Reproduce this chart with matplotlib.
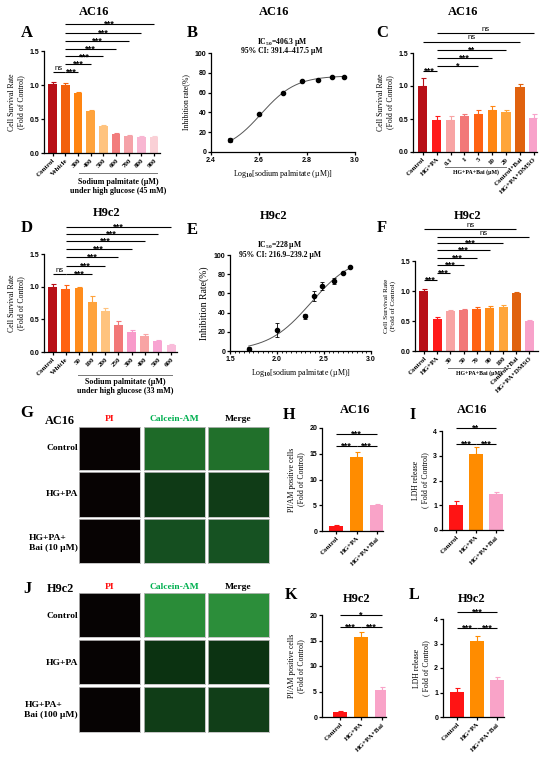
import numpy as np
import matplotlib
matplotlib.use('Agg')
from matplotlib import pyplot as plt
from matplotlib.transforms import blended_transform_factory
from matplotlib.ticker import MultipleLocator

plt.rcParams['font.family'] = ['Liberation Sans', 'DejaVu Sans']
plt.rcParams['font.weight'] = 'bold'
plt.rcParams['mathtext.fontset'] = 'custom'
plt.rcParams['mathtext.rm'] = 'Liberation Serif:bold'
plt.rcParams['mathtext.bf'] = 'Liberation Serif:bold'
plt.rcParams['mathtext.it'] = 'Liberation Serif:bold'
plt.rcParams['mathtext.default'] = 'rm'
SERIF = ['Liberation Serif', 'DejaVu Serif']

# ---------------- data ----------------
a_labels = ['Control', 'Vehicle', '300', '400', '500', '600', '700', '800', '900']
a_vals = [1.01, 1.00, 0.88, 0.62, 0.40, 0.28, 0.25, 0.24, 0.24]
a_errs = [0.04, 0.03, 0.02, 0.01, 0.015, 0.012, 0.015, 0.01, 0.01]
a_colors = ['#B80F17', '#F2600C', '#FF8410', '#FFA33C', '#FFC37E', '#F27C7C',
            '#F5A2A8', '#F8B6D2', '#FAD0D6']
a_sig = [(0, 1, 1.19, 'ns'), (1, 2, 1.19, '***'), (1, 3, 1.31, '***'), (1, 4, 1.42, '***'),
         (1, 5, 1.53, '***'), (1, 6, 1.65, '***'), (1, 7, 1.77, '***'), (1, 8, 1.90, '***')]

b_conc = [300, 400, 500, 600, 700, 800, 900]
b_rate = [12, 38, 59.5, 72, 73, 75.5, 76]
b_errs = [2, 1, 1, 1, 1, 1, 1]
b_fit = {'bottom': 0, 'top': 77, 'ic50': 406.3, 'hill': 6.0}

c_labels = ['Control', 'HG+PA', '0.1', '1', '5', '10', '20', 'Control+Bai', 'HG+PA+DMSO']
c_vals = [1.00, 0.48, 0.49, 0.55, 0.58, 0.64, 0.61, 0.99, 0.51]
c_errs = [0.12, 0.06, 0.06, 0.03, 0.05, 0.05, 0.03, 0.04, 0.07]
c_colors = ['#B80F17', '#FF1A1A', '#F8A4A4', '#F27878', '#FF6212', '#FF8614',
            '#FFA53A', '#E0620E', '#F8A2CA']
c_sig = [(0, 1, 1.23, '***'), (1, 4, 1.30, '*'), (1, 5, 1.42, '***'), (1, 6, 1.55, '**'),
         (0, 7, 1.67, 'ns'), (1, 8, 1.80, 'ns')]

d_labels = ['Control', 'Vehicle', '50', '100', '200', '250', '300', '400', '500', '600']
d_vals = [1.00, 0.97, 0.98, 0.77, 0.63, 0.42, 0.30, 0.25, 0.17, 0.11]
d_errs = [0.04, 0.05, 0.02, 0.08, 0.05, 0.05, 0.04, 0.03, 0.02, 0.01]
d_colors = ['#B80F17', '#FF6212', '#FF8C1C', '#FFA33C', '#FFC37E', '#F27878',
            '#F89ACA', '#F8A4A4', '#F8A4D2', '#F9BCDA']
d_sig = [(0, 1, 1.19, 'ns'), (1, 3, 1.19, '***'), (1, 4, 1.32, '***'), (1, 5, 1.45, '***'),
         (1, 6, 1.58, '***'), (1, 7, 1.70, '***'), (1, 8, 1.81, '***'), (1, 9, 1.92, '***')]

e_conc = [50, 100, 200, 250, 300, 400, 500, 600]
e_rate = [2, 22, 36, 57, 68, 73, 81, 87]
e_errs = [2, 7, 3, 5, 4, 3, 1, 1]
e_fit = {'bottom': 0, 'top': 100, 'ic50': 228, 'hill': 1.92}

f_labels = ['Control', 'HG+PA', '30', '50', '70', '90', '100', 'Control+Bai', 'HG+PA+DMSO']
f_vals = [1.00, 0.54, 0.67, 0.68, 0.70, 0.72, 0.73, 0.96, 0.50]
f_errs = [0.03, 0.02, 0.02, 0.02, 0.03, 0.03, 0.04, 0.03, 0.02]
f_colors = ['#B80F17', '#FF1A1A', '#F8A4A4', '#F27878', '#FF6212', '#FF8C1C',
            '#FFA53A', '#E0620E', '#F8A2CA']
f_sig = [(0, 1, 1.18, '***'), (1, 2, 1.30, '***'), (1, 3, 1.43, '***'), (1, 4, 1.55, '***'),
         (1, 5, 1.68, '***'), (1, 6, 1.80, '***'), (1, 8, 1.90, 'ns'), (0, 7, 2.03, 'ns')]

grp_labels = ['Control', 'HG+PA', 'HG+PA+Bai']
grp_colors = ['#FF1414', '#FF8C00', '#F9A3C8']
h_vals, h_errs = [1.0, 14.4, 5.0], [0.2, 1.0, 0.3]
h_sig = [(0, 1, 16.5, '***'), (1, 2, 16.5, '***'), (0, 2, 18.8, '***')]
i_vals, i_errs = [1.0, 3.07, 1.45], [0.18, 0.28, 0.08]
i_sig = [(0, 1, 3.48, '***'), (1, 2, 3.48, '***'), (0, 2, 4.12, '**')]
k_vals, k_errs = [1.0, 15.6, 5.3], [0.2, 1.0, 0.6]
k_sig = [(0, 1, 17.6, '***'), (1, 2, 17.6, '***'), (0, 2, 20.0, '*')]
l_vals, l_errs = [1.03, 3.12, 1.5], [0.15, 0.2, 0.15]
l_sig = [(0, 1, 3.63, '***'), (1, 2, 3.63, '***'), (0, 2, 4.29, '***')]

img_cols = ['PI', 'Calcein-AM', 'Merge']
img_col_colors = ['#FF1010', '#00B050', 'black']
g_rows = ['Control', 'HG+PA', 'HG+PA+\nBai (10 µM)']
j_rows = ['Control', 'HG+PA', 'HG+PA+\nBai (100 µM)']
# mean tone of each micrograph (row x column)
g_tones = [['#070303', '#1E6A28', '#21702B'],
           ['#070303', '#0F3A16', '#103C17'],
           ['#070303', '#154F20', '#165222']]
j_tones = [['#060303', '#2A8C38', '#2C8E3A'],
           ['#060303', '#0B3211', '#0C3312'],
           ['#060303', '#103D17', '#113E18']]

# ---------------- helpers ----------------
W, H = 550, 766
fig = plt.figure(figsize=(W / 100, H / 100), dpi=100)


def add_ax(l, t, r, b):
    return fig.add_axes([l / W, 1 - b / H, (r - l) / W, (b - t) / H])


def ftext(x, y, s, size, **kw):
    fig.text(x / W, 1 - y / H, s, fontsize=size, family=SERIF, ha=kw.pop('ha', 'center'),
             va=kw.pop('va', 'center'), **kw)


def style(ax):
    for s in ['top', 'right']:
        ax.spines[s].set_visible(False)
    for s in ['left', 'bottom']:
        ax.spines[s].set_linewidth(0.9)
    ax.tick_params(width=0.9, length=2.5, labelsize=5, pad=1)


def bar_panel(ax, labels, vals, errs, colors, ymax, ystep, xlim, fs=6):
    x = np.arange(len(vals))
    ax.bar(x, vals, width=0.68, color=colors, zorder=2)
    for xi, v, e, c in zip(x, vals, errs, colors):
        ax.errorbar(xi, v, yerr=[[0], [e]], ecolor=c, elinewidth=0.8, capsize=1.8,
                    capthick=0.8, zorder=3)
    ax.set_xlim(*xlim)
    ax.set_ylim(0, ymax)
    ax.set_yticks(np.arange(0, ymax + 1e-9, ystep))
    ax.set_xticks(x)
    ax.set_xticklabels(labels, rotation=45, ha='right', rotation_mode='anchor',
                       family=SERIF, fontsize=fs)
    style(ax)


def sig(ax, i, j, y, txt):
    ax.plot([i, j], [y, y], color='k', lw=0.8, clip_on=False, solid_capstyle='butt')
    if txt == 'ns':
        ax.annotate('ns', ((i + j) / 2, y), xytext=(0, 0.3), textcoords='offset points',
                    ha='center', va='bottom', fontsize=5.5, fontweight='normal',
                    annotation_clip=False)
    else:
        ax.annotate(txt, ((i + j) / 2, y), xytext=(0, -1.9), textcoords='offset points',
                    ha='center', va='baseline', fontsize=6.6, annotation_clip=False)


def bracket(ax, i0, i1, yline, text, ytext, fs):
    tr = blended_transform_factory(ax.transData, ax.transAxes)
    ax.plot([i0, i1], [yline, yline], transform=tr, color='#777777', lw=0.7, clip_on=False)
    ax.text((i0 + i1) / 2, ytext, text, transform=tr, ha='center', va='top',
            family=SERIF, fontsize=fs, linespacing=1.15)


def hill(xx, p):
    return p['bottom'] + (p['top'] - p['bottom']) / (1 + 10 ** ((np.log10(p['ic50']) - xx) * p['hill']))


def curve_panel(ax, conc, rate, errs, p, xlim, xstep):
    lx = np.log10(conc)
    xx = np.linspace(lx[0], lx[-1], 200)
    ax.plot(xx, hill(xx, p), color='#555555', lw=0.7)
    ax.errorbar(lx, rate, yerr=errs, fmt='o', color='k', ms=3, capsize=1.5,
                elinewidth=0.6, capthick=0.6)
    ax.set_xlim(*xlim)
    ax.set_ylim(0, 100)
    ax.set_xticks(np.arange(xlim[0], xlim[1] + 1e-9, xstep))
    ax.set_yticks(np.arange(0, 101, 20))
    style(ax)
    ax.set_xlabel('Log$_{10}$[sodium palmitate (µM)]', family=SERIF, fontsize=5.8, labelpad=3)


def micro(rows, tones, tops, label_y, head_y, cell):
    lefts = [(79, 140), (144, 205), (208, 269)]
    for r, (t, b) in enumerate(tops):
        for c, (l, rr) in enumerate(lefts):
            ax = add_ax(l, t, rr, b)
            ax.set_facecolor(tones[r][c])
            ax.set_xticks([])
            ax.set_yticks([])
            for s in ax.spines.values():
                s.set_color('#BBBBBB')
                s.set_linewidth(0.6)
        ftext(78, label_y[r], rows[r], 6.8, ha='right', multialignment='left')
    for c, (l, rr) in enumerate(lefts):
        ftext((l + rr) / 2, head_y, img_cols[c], 6.8, color=img_col_colors[c])
    ftext(60, head_y + 2, cell, 8.8)


# ---------------- A ----------------
ax = add_ax(44, 51, 160, 153)
bar_panel(ax, a_labels, a_vals, a_errs, a_colors, 1.5, 0.5, (-0.67, 8.46))
for s in a_sig:
    sig(ax, *s)
bracket(ax, 2.1, 8.2, -0.2, 'Sodium palmitate (µM)\nunder high glucose (45 mM)', -0.25, 5.8)
ax.set_ylabel('Cell Survival Rate\n(Fold of Control)', family=SERIF, fontsize=5.6, labelpad=3)
ftext(94, 12, 'AC16', 9)
ftext(27, 33, 'A', 12)

# ---------------- B ----------------
ax = add_ax(211, 53, 355, 152)
curve_panel(ax, b_conc, b_rate, b_errs, b_fit, (2.4, 3.0), 0.2)
ax.set_ylabel('Inhibition rate(%)', family=SERIF, fontsize=5.6, labelpad=3)
ftext(282, 42, 'IC$_{50}$=406.3 µM', 5.5)
ftext(282, 51, '95% CI: 391.4–417.5 µM', 5.5)
ftext(274, 12, 'AC16', 9)
ftext(192, 33, 'B', 12)

# ---------------- C ----------------
ax = add_ax(413, 53, 537, 152)
bar_panel(ax, c_labels, c_vals, c_errs, c_colors, 1.5, 0.5, (-0.7, 8.22), fs=5.8)
for s in c_sig:
    sig(ax, *s)
bracket(ax, 1.6, 6.0, -0.15, 'HG+PA+Bai (µM)', -0.17, 4.2)
ax.set_ylabel('Cell Survival Rate\n(Fold of Control)', family=SERIF, fontsize=5.6, labelpad=3)
ftext(463, 12, 'AC16', 9)
ftext(382, 33, 'C', 12)

# ---------------- D ----------------
ax = add_ax(44, 254, 177, 352)
bar_panel(ax, d_labels, d_vals, d_errs, d_colors, 1.5, 0.5, (-0.66, 9.45))
for s in d_sig:
    sig(ax, *s)
bracket(ax, 1.95, 9.1, -0.235, 'Sodium palmitate (µM)\nunder high glucose (33 mM)', -0.27, 5.8)
ax.set_ylabel('Cell Survival Rate\n(Fold of Control)', family=SERIF, fontsize=5.6, labelpad=3)
ftext(107, 213, 'H9c2', 9)
ftext(27, 228, 'D', 12)

# ---------------- E ----------------
ax = add_ax(230, 255, 371, 351)
curve_panel(ax, e_conc, e_rate, e_errs, e_fit, (1.5, 3.0), 0.5)
ax.xaxis.set_minor_locator(MultipleLocator(0.05))
ax.tick_params(which='minor', length=1.5, width=0.6)
ax.set_ylabel('Inhibition Rate(%)', family=SERIF, fontsize=7, labelpad=3)
ftext(280, 245, 'IC$_{50}$=228 µM', 5.5)
ftext(280, 255, '95% CI: 216.9–239.2 µM', 5.5)
ftext(274, 216, 'H9c2', 9)
ftext(192, 230, 'E', 12)

# ---------------- F ----------------
ax = add_ax(415, 261, 538, 351)
bar_panel(ax, f_labels, f_vals, f_errs, f_colors, 1.5, 0.5, (-0.68, 8.65), fs=5.8)
for s in f_sig:
    sig(ax, *s)
bracket(ax, 1.85, 6.5, -0.19, 'HG+PA+Bai (µM)', -0.21, 4.2)
ax.set_ylabel('Cell Survival Rate\n(Fold of Control)', family=SERIF, fontsize=5.2, labelpad=3)
ftext(468, 216, 'H9c2', 9)
ftext(382, 228, 'F', 12)

# ---------------- H, I, K, L ----------------
small = [
    ((322, 428, 383, 531), h_vals, h_errs, h_sig, 20, 5, (-0.7, 2.3),
     'PI/AM positive cells\n(Fold of Control)', 'AC16', (355, 410), 'H', (289, 415)),
    ((442, 431, 503, 530), i_vals, i_errs, i_sig, 4, 1, (-0.7, 2.35),
     'LDH release\n( Fold of Control)', 'AC16', (472, 410), 'I', (413, 415)),
    ((322, 615, 386, 717), k_vals, k_errs, k_sig, 20, 5, (-0.85, 2.2),
     'PI/AM positive cells\n(Fold of Control)', 'H9c2', (357, 599), 'K', (291, 595)),
    ((443, 619, 504, 717), l_vals, l_errs, l_sig, 4, 1, (-0.7, 2.35),
     'LDH release\n( Fold of Control)', 'H9c2', (472, 599), 'L', (414, 595)),
]
for rect, vals, errs, sigs, ymax, ystep, xl, ylab, title, tpos, letter, lpos in small:
    ax = add_ax(*rect)
    bar_panel(ax, grp_labels, vals, errs, grp_colors, ymax, ystep, xl, fs=6)
    for s in sigs:
        sig(ax, *s)
    ax.set_ylabel(ylab, family=SERIF, fontsize=5.6, labelpad=3)
    ftext(tpos[0], tpos[1], title, 9)
    ftext(lpos[0], lpos[1], letter, 11.5)

# ---------------- G, J micrographs ----------------
micro(g_rows, g_tones, [(427, 470), (472, 517), (519, 563)], [448, 494, 543], 419, 'AC16')
ftext(27, 413, 'G', 12)
micro(j_rows, j_tones, [(593, 637), (640, 684), (687, 732)], [616, 663, 710], 587, 'H9c2')
ftext(27, 589, 'J', 12)

fig.savefig('out.png', dpi=100, facecolor='white')
